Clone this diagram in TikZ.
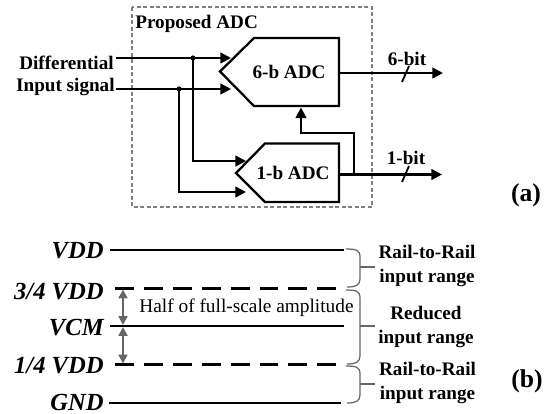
\documentclass[tikz,border=0pt]{standalone}
\usepackage{fontspec}
\setmainfont{Liberation Serif}
\usetikzlibrary{arrows.meta}
\tikzset{
  wire/.style={line width=1.3pt},
  sig/.style={wire,-{Triangle[length=6pt,width=6pt]}},
  adc/.style={line width=1.3pt},
  lbl/.style={font=\fontsize{10.9}{13.2}\selectfont\bfseries,inner sep=0pt,align=center},
  lvl/.style={font=\fontsize{14}{16}\selectfont\bfseries\itshape,anchor=east,inner sep=0pt},
  tagtxt/.style={font=\fontsize{14.6}{17}\selectfont\bfseries,inner sep=0pt},
  railbrace/.style={line width=.7pt,draw=black!60},
  halfspan/.style={line width=1.3pt,draw=black!60,{Triangle[length=5pt,width=5pt]}-{Triangle[length=5pt,width=5pt]}}
}
\begin{document}
\begin{tikzpicture}[x=.02cm,y=-.02cm]
  \useasboundingbox (0,0) rectangle (555,413);
  % part (a)
  \draw [black!50,line width=.95pt,dash pattern=on 2.4pt off 1.3pt] (132,7) rectangle (372,207);
  \node [lbl,anchor=west] (prop) at (135,24) {Proposed ADC};
  \draw [adc] (220,71.5) -- (254,38) -- (339,38) -- (339,106) -- (254,106) -- cycle;
  \draw [adc] (236,173) -- (265,143.5) -- (339,143.5) -- (339,202) -- (265,202) -- cycle;
  \node [lbl] (six) at (289,72) {6-b ADC};
  \node [lbl] (one) at (293,173) {1-b ADC};
  \node [lbl,anchor=east] (diff) at (114,63) {Differential};
  \node [lbl,anchor=east] (inp) at (115,87) {Input signal};
  \coordinate (d0) at (116,58);
  \coordinate (d1) at (193,58);
  \coordinate (d2) at (231,58);
  \coordinate (i0) at (116,89);
  \coordinate (i1) at (179,89);
  \coordinate (i2) at (231,89);
  \coordinate (d3) at (246,161);
  \coordinate (i3) at (246,192);
  \draw [sig] (d0) -- (d2);
  \draw [sig] (i0) -- (i2);
  \draw [sig] (d1) |- (d3);
  \draw [sig] (i1) |- (i3);
  \fill (d1) circle [radius=2.6];
  \fill (i1) circle [radius=2.6];
  \coordinate (o6a) at (339,73);
  \coordinate (o6b) at (443,73);
  \coordinate (o1a) at (339,174.5);
  \coordinate (o1b) at (442,174.5);
  \coordinate (fb0) at (354,174.5);
  \coordinate (fb1) at (354,133);
  \coordinate (fb2) at (301,133);
  \coordinate (fb3) at (301,107.5);
  \draw [sig] (o6a) -- (o6b);
  \draw [sig] (o1a) -- (o1b);
  \draw [sig] (fb0) -- (fb1) -- (fb2) -- (fb3);
  \draw [wire,line width=1pt] (402,82) -- (409,66);
  \draw [wire,line width=1pt] (402,182) -- (409,166);
  \node [lbl] (bit6) at (407,59) {6-bit};
  \node [lbl] (bit1) at (406,158) {1-bit};
  \node [tagtxt] (a) at (526,195) {(a)};
  % part (b)
  \node [lvl] (vdd) at (104,251) {VDD};
  \node [lvl] (tq) at (104,291.5) {3/4 VDD};
  \node [lvl] (vcm) at (104,328) {VCM};
  \node [lvl] (oq) at (104,365.5) {1/4 VDD};
  \node [lvl] (gnd) at (104,402) {GND};
  \coordinate (vddl) at (110,250);
  \coordinate (vddr) at (344,250);
  \coordinate (tql) at (115,288.5);
  \coordinate (tqr) at (338,288.5);
  \coordinate (vcml) at (110,326);
  \coordinate (vcmr) at (344,326);
  \coordinate (oql) at (115,364.5);
  \coordinate (oqr) at (338,364.5);
  \coordinate (gndl) at (109,403);
  \coordinate (gndr) at (341,403);
  \draw [wire] (vddl) -- (vddr);
  \draw [wire] (vcml) -- (vcmr);
  \draw [wire] (gndl) -- (gndr);
  \draw [wire,dash pattern=on 10.8pt off 5.65pt] (tql) -- (tqr);
  \draw [wire,dash pattern=on 10.8pt off 5.65pt] (oql) -- (oqr);
  \coordinate (s1) at (123,289.5);
  \coordinate (s2) at (123,325);
  \coordinate (s3) at (123,327);
  \coordinate (s4) at (123,363.5);
  \draw [halfspan] (s1) -- (s2);
  \draw [halfspan] (s3) -- (s4);
  \node [font=\fontsize{11}{13}\selectfont,inner sep=0pt] (half) at (246.5,308) {Half of full-scale amplitude};
  \foreach \ya/\ym/\yb in {249/267/287, 290/326/364, 366/384/403}{
    \draw [railbrace] (346,\ya) .. controls (356,\ya) and (360,\ya+1) .. (360,\ya+8)
      -- (360,\yb-8) .. controls (360,\yb-2) and (356,\yb) .. (347,\yb);
    \draw [railbrace] (360,\ym) -- (375,\ym);
  }
  \node [lbl] (r1) at (427,266) {Rail-to-Rail\\input range};
  \node [lbl] (r2) at (426,327) {Reduced\\input range};
  \node [lbl] (r3) at (427.5,383) {Rail-to-Rail\\input range};
  \node [tagtxt] (b) at (527,381) {(b)};
\end{tikzpicture}
\end{document}
